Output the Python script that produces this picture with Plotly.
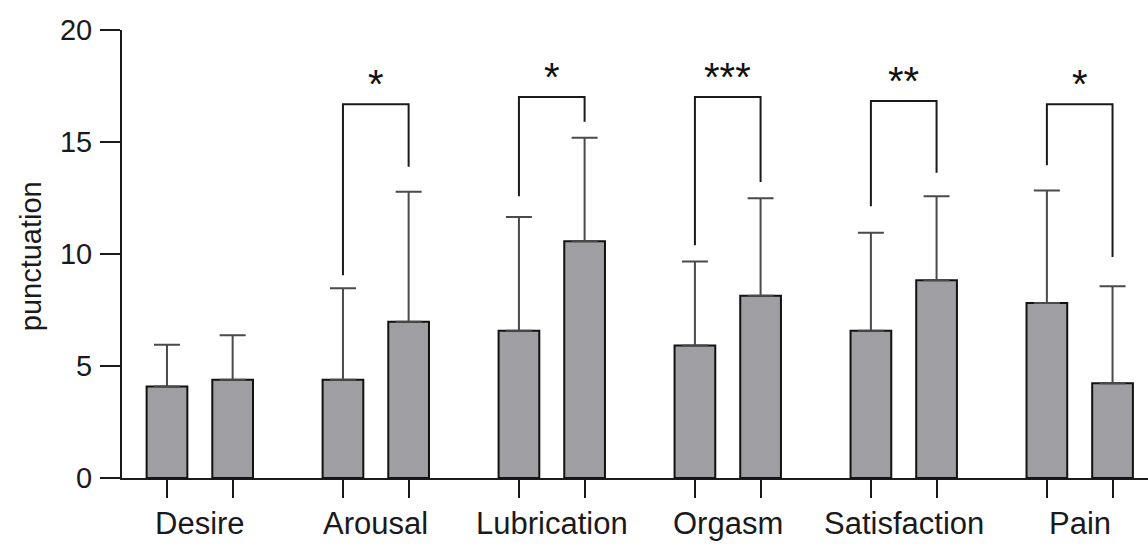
import plotly.graph_objects as go

# Domain scores, two groups per domain (mean and upper SD)
categories = ["Desire", "Arousal", "Lubrication", "Orgasm", "Satisfaction", "Pain"]
group_a_mean = [4.08, 4.39, 6.57, 5.91, 6.57, 7.81]
group_a_sd = [1.87, 4.08, 5.08, 3.76, 4.38, 5.02]
group_b_mean = [4.39, 6.97, 10.57, 8.14, 8.83, 4.23]
group_b_sd = [1.98, 5.81, 4.62, 4.35, 3.75, 4.33]

# Significance brackets per domain (None = no bracket)
bracket_top = [None, 16.68, 17.01, 17.01, 16.83, 16.68]
bracket_left_end = [None, 9.05, 12.58, 10.39, 12.13, 13.96]
bracket_right_end = [None, 13.89, 15.90, 13.21, 13.63, 9.87]
significance = ["", "*", "*", "***", "**", "*"]

y_ticks = [0, 5, 10, 15, 20]

GROUP_STEP = 2.68
BAR_WIDTH = 0.62
FONT = "Arial, Liberation Sans, sans-serif"
BAR_FILL = "#9f9fa3"

x_a = [i * GROUP_STEP for i in range(len(categories))]
x_b = [x + 1 for x in x_a]
x_mid = [x + 0.5 for x in x_a]

fig = go.Figure()

for xs, means, sds in [(x_a, group_a_mean, group_a_sd), (x_b, group_b_mean, group_b_sd)]:
    fig.add_trace(go.Bar(
        x=xs, y=means, width=BAR_WIDTH,
        marker=dict(color=BAR_FILL, line=dict(color="#111111", width=2)),
        error_y=dict(type="data", symmetric=False, array=sds,
                     arrayminus=[0] * len(sds), color="#4a4a4a",
                     thickness=2, width=13),
        showlegend=False, hoverinfo="skip",
    ))

annotations = []
for i, top in enumerate(bracket_top):
    if top is None:
        continue
    fig.add_trace(go.Scatter(
        x=[x_a[i], x_a[i], x_b[i], x_b[i]],
        y=[bracket_left_end[i], top, top, bracket_right_end[i]],
        mode="lines", line=dict(color="#1a1a1a", width=2),
        showlegend=False, hoverinfo="skip",
    ))
    annotations.append(dict(
        x=x_mid[i], y=top, xref="x", yref="y", text=significance[i],
        showarrow=False, yanchor="bottom", yshift=-4,
        font=dict(family=FONT, size=40, color="#111111"),
    ))

for i, name in enumerate(categories):
    annotations.append(dict(
        x=x_mid[i], y=0, xref="x", yref="paper", text=name,
        showarrow=False, yanchor="top", yshift=-27, borderpad=0,
        font=dict(family=FONT, size=31, color="#1a1a1a"),
    ))

annotations.append(dict(
    x=-0.0887, y=0.495, xref="paper", yref="paper", text="punctuation",
    textangle=-90, showarrow=False, xanchor="center", yanchor="middle",
    font=dict(family=FONT, size=29, color="#1a1a1a"),
))

fig.update_layout(
    width=1148, height=546,
    margin=dict(l=122, r=0, t=30, b=68),
    paper_bgcolor="white", plot_bgcolor="white",
    barmode="overlay",
    annotations=annotations,
    xaxis=dict(
        range=[-0.685, 14.94], showgrid=False, zeroline=False,
        showline=True, linecolor="#1a1a1a", linewidth=2,
        tickmode="array", tickvals=x_a + x_b, showticklabels=False,
        ticks="outside", ticklen=18, tickwidth=2, tickcolor="#1a1a1a",
    ),
    yaxis=dict(
        range=[0, 20], showgrid=False, zeroline=False,
        showline=True, linecolor="#1a1a1a", linewidth=2,
        tickmode="array", tickvals=y_ticks,
        ticks="outside", ticklen=20, tickwidth=2, tickcolor="#1a1a1a",
        ticklabelstandoff=2,
        tickfont=dict(family=FONT, size=29, color="#1a1a1a"),
    ),
)

fig.write_html("out.html")
